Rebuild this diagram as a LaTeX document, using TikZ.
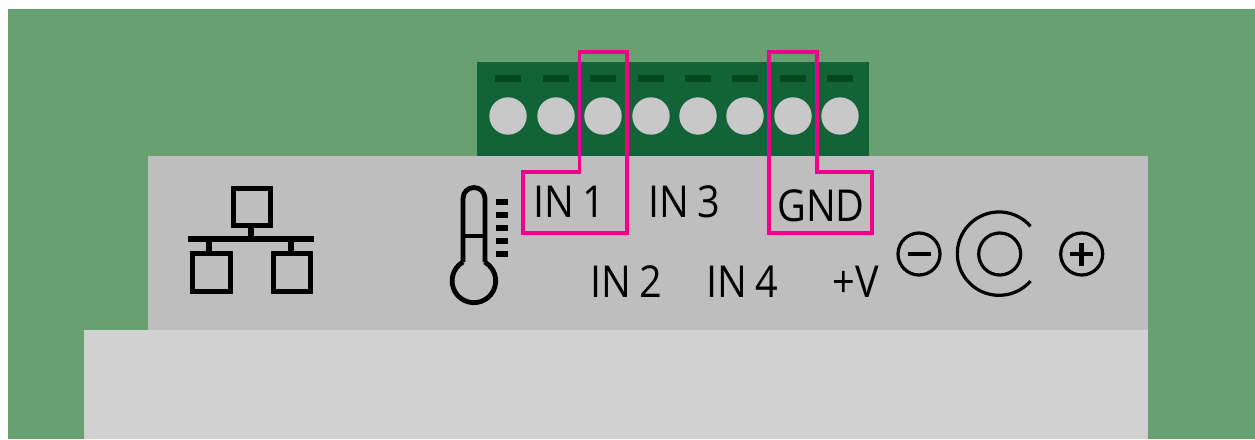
\documentclass[tikz,border=0pt]{standalone}
\usepackage{fontspec}
\setmainfont[FakeStretch=0.9,WordSpace=0.8]{Open Sans}
\definecolor{bggreen}{HTML}{67A071}
\definecolor{blockgreen}{HTML}{136339}
\definecolor{slotgreen}{HTML}{00461F}
\definecolor{pinlight}{HTML}{C8C8C8}
\definecolor{bodygray}{HTML}{BEBEBE}
\definecolor{baselight}{HTML}{D1D1D1}
\definecolor{hilite}{HTML}{EC008C}
\tikzset{
  pin/.style={circle,fill=pinlight,minimum size=28.05pt,inner sep=0pt,draw=none},
  slot/.style={fill=slotgreen,draw=none,minimum width=19.5pt,minimum height=5.25pt,inner sep=0pt},
  label/.style={anchor=base,inner sep=0pt,font=\fontsize{33pt}{38pt}\selectfont,text=black},
  hibox/.style={draw=hilite,line width=2.7pt,miter limit=10},
  icon/.style={draw=black,line width=3.75pt},
  thinicon/.style={draw=black,line width=2.4pt},
}
\begin{document}
\begin{tikzpicture}[x=0.75pt,y=-0.75pt]
\useasboundingbox (0,0) rectangle (1255,439);
\fill[white] (0,0) rectangle (1255,439);
\fill[bggreen] (8,9) rectangle (1255,439);
\fill[blockgreen] (477,62) rectangle (869,156);
\fill[bodygray] (148,156) rectangle (1148,330);
\fill[baselight] (84,330) rectangle (1148,439);
% slots and pins
\foreach \n/\x in {1/508,2/556,3/603,4/651,5/698,6/745,7/793,8/840}{
  \node[slot] (slot\n) at (\x,78.5) {};
  \node[pin] (pin\n) at (\x,116) {};
}
% labels
\node[label] (in1) at (569.5,217.3) {IN 1};
\node[label] (in3) at (684,217.3) {IN 3};
\node[label] (gnd) at (821,221.7) {GND};
\node[label] (in2) at (626,297) {IN 2};
\node[label] (in4) at (742,297) {IN 4};
\node[label] (plusv) at (856,297) {+V};
% highlight outlines
\draw[hibox] (579.5,52) -- (627,52) -- (627,233) -- (523,233) -- (523,172) -- (579.5,172) -- cycle;
\draw[hibox] (768.7,52) -- (816.7,52) -- (816.7,172) -- (872,172) -- (872,233) -- (768.7,233) -- cycle;
% network icon
\draw[icon] (233,188.2) rectangle (270,225.8);
\draw[icon] (192.5,253.5) rectangle (230.2,291.2);
\draw[icon] (273.2,253.5) rectangle (310.8,291.2);
\fill[black] (188,236) rectangle (314,242);
\fill[black] (248,228) rectangle (254,236);
\fill[black] (206,242) rectangle (212,251);
\fill[black] (288,242) rectangle (294,251);
% thermometer (y axis points down, so angles run clockwise on the page)
\draw[icon,line width=3.6pt] (463,262) -- (463,198.5) arc[start angle=180,end angle=360,radius=11] -- (485,262);
\draw[icon,line width=3.6pt] (463,262) arc[start angle=240,end angle=-60,radius=21.8];
\draw[icon,line width=3.6pt] (463,236) -- (485,236);
\foreach \y in {199,212,225,238,251}{\fill[black] (496,\y) rectangle (508,\y+5.8);}
% power jack icons
\draw[thinicon] (919,254) circle[radius=21];
\fill[black] (907.7,251.7) rectangle (931,256.3);
\draw[thinicon] (999.7,254) circle[radius=21];
\draw[thinicon] (1030.5,226.3) arc[start angle=-41,end angle=-319,radius=41.7];
\draw[thinicon] (1081.7,254) circle[radius=21];
\fill[black] (1070,251.7) rectangle (1093.4,256.3);
\fill[black] (1079.4,242.7) rectangle (1084,266);
\end{tikzpicture}
\end{document}
